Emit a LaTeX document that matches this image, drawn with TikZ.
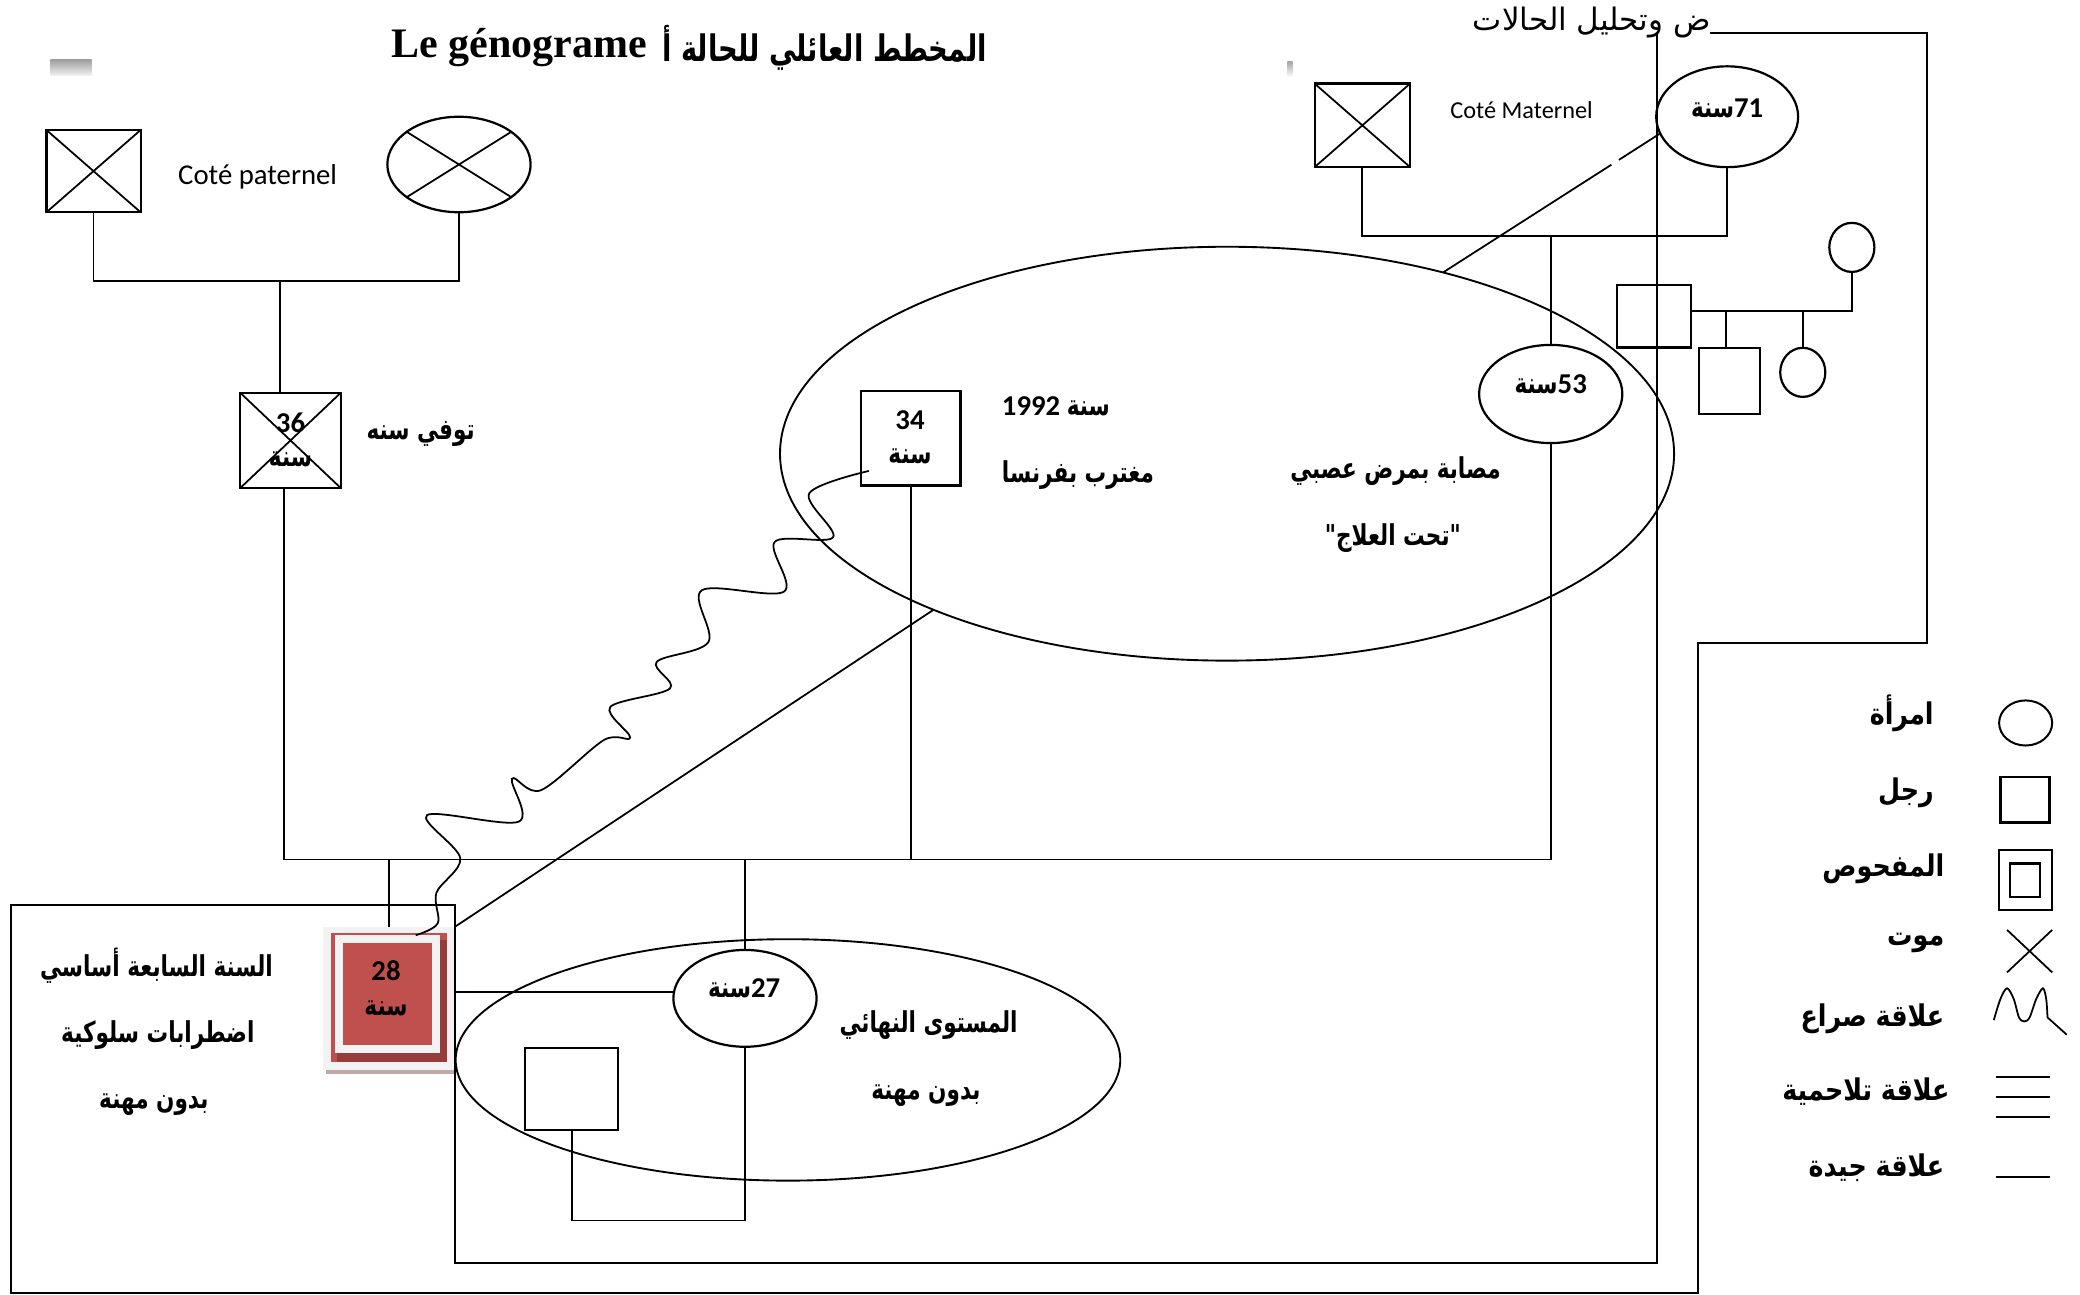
\documentclass[tikz,border=0pt]{standalone}
\usepackage{fontspec}
\setmainfont{Carlito}
\newfontfamily\arb[Script=Arabic,FakeStretch=0.75]{DejaVu Sans}
\newfontfamily\arblg[Script=Arabic,FakeStretch=0.85]{DejaVu Sans}
\newfontfamily\arbh[Script=Arabic]{DejaVu Sans}
\newfontfamily\tms{Liberation Serif}
\TeXXeTstate=1
\usetikzlibrary{shapes.geometric,calc}
\definecolor{idxred}{HTML}{C0504D}
\definecolor{idxdark}{HTML}{963C3A}
\definecolor{idxlight}{HTML}{F2F2F2}
\definecolor{idxshadow}{HTML}{BFA8A8}
\begin{document}
\begin{tikzpicture}[x=0.6pt,y=-0.6pt,
 ln/.style={line width=0.8pt},
 frame/.style={line width=0.9pt},
 shp/.style={draw,line width=1pt,inner sep=0pt,outer sep=0pt},
 box/.style={shp,rectangle},
 oval/.style={shp,ellipse},
 sz/.style 2 args={minimum width={#1*0.6pt},minimum height={#2*0.6pt}},
 lat/.style={inner sep=0pt,font=\fontsize{13}{15}\selectfont},
 ar/.style={inner sep=0pt,font=\arb\bfseries\fontsize{13}{15}\selectfont},
 num/.style={inner sep=0pt,font=\bfseries\fontsize{13}{15}\selectfont},
 lg/.style={inner sep=0pt,anchor=east,font=\arblg\bfseries\fontsize{13.5}{15}\selectfont},
]
\useasboundingbox (0,0) rectangle (1568,976);

% stray marks
\shade[top color=gray!75,bottom color=gray!10] (38,45) rectangle (69,57);
\shade[top color=gray!70,bottom color=white] (970.5,46.5) rectangle (974.5,58);

% title
\node[inner sep=0pt,anchor=west,font=\tms\bfseries\fontsize{19}{22}\selectfont] (ttl) at (295,36) {Le génograme};
\node[inner sep=0pt,anchor=west,font=\arb\bfseries\fontsize{16.5}{19}\selectfont] (tta) at (499,36) {\beginR المخطط العائلي للحالة أ\endR};
\node[inner sep=0pt,anchor=east,font=\arbh\fontsize{14}{16}\selectfont] (hdr) at (1290,17) {\beginR ض وتحليل الحالات\endR};

% family ellipses
\node[oval,line width=0.85pt,sz={674}{312}] (fam1) at (925,342) {};
\node[oval,line width=0.85pt,sz={501}{182}] (fam2) at (594,799) {};

% paternal side
\node[box,sz={71}{62}] (pgf) at (70.5,129) {};
\draw[ln] (pgf.north west) -- (pgf.south east) (pgf.south west) -- (pgf.north east);
\node[lat,anchor=west] (cp) at (134,133) {Coté paternel};
\node[oval,sz={108}{72}] (pgm) at (346,124) {};
\draw[ln] ($(pgm.center)+(-40,-25)$) -- ($(pgm.center)+(40,25)$)
          ($(pgm.center)+(-40,25)$) -- ($(pgm.center)+(40,-25)$);
\coordinate (pj) at (211,212);
\draw[ln] (pgf.south) |- (pj) -| (pgm.south);

\node[box,sz={76}{72}] (pf) at (219,332) {};
\draw[ln] (pf.north west) -- (pf.south east) (pf.south west) -- (pf.north east);
\draw[ln] (pj) -- (pj |- pf.north);
\node[num] (pft) at (219,319) {36};
\node[ar] (pfs) at (219,346) {سنة};
\node[ar,anchor=west] (pfl) at (276,327) {\beginR توفي سنه\endR};

\coordinate (sibL) at (214,648);
\coordinate (sibR) at (1169,648);
\draw[ln] (sibL |- pf.south) -- (sibL) -- (sibR);

% maternal side
\node[box,sz={72}{63}] (mgf) at (1027,94.5) {};
\draw[ln] (mgf.north west) -- (mgf.south east) (mgf.south west) -- (mgf.north east);
\node[inner sep=0pt,anchor=west,font=\fontsize{11}{13}\selectfont] (cm) at (1093,83) {Coté Maternel};
\node[oval,sz={107}{76}] (mgm) at (1302,88) {};
\node[num] (mgmt) at (1302,82) {{\arb\bfseries سنة}71};
\coordinate (mj) at (1169,178);
\draw[ln] (mgf.south) |- (mj) -| (mgm.south);

\node[oval,sz={108}{74}] (m53) at (1169,297) {};
\node[num] (m53t) at (1169,290) {{\arb\bfseries سنة}53};
\draw[ln] (mj) -- (m53.north);
\draw[ln] (m53.south) -- (sibR);
\node[ar] (m53a) at (1052,355) {\beginR مصابة بمرض عصبي\endR};
\node[ar] (m53b) at (1050,406) {"\hbox{العلاج} \hbox{تحت}"};

% brother
\node[box,sz={75}{71}] (b34) at (686.5,330.5) {};
\node[num] (b34t) at (686,317) {34};
\node[ar] (b34s) at (686,344) {سنة};
\draw[ln] (b34.south) -- (b34.south |- sibL);
\node[num,anchor=west] (b34a) at (755,306) {1992 {\arb\bfseries سنة}};
\node[ar,anchor=west] (b34b) at (755,358) {\beginR مغترب بفرنسا\endR};

% right family
\node[box,sz={56}{47}] (s2) at (1246.75,238.5) {};
\node[oval,sz={34}{37}] (w2) at (1396,186.5) {};
\node[box,sz={46}{50}] (c2a) at (1304,287.2) {};
\node[oval,sz={34}{37}] (c2b) at (1359,280.7) {};
\coordinate (j2) at (1301,234.5);
\draw[ln] (s2.east |- j2) -| (w2.south);
\draw[ln] (j2) -- (j2 |- c2a.north);
\draw[ln] (j2 -| c2b.north) -- (c2b.north);

% index person
\fill[idxshadow] (245.8,805) rectangle (343,809.7);
\node[inner sep=0pt,outer sep=0pt,fill=idxlight,sz={99.3}{108}] (idx) at (293.35,752.6) {};
\fill[idxred] (249.5,703.6) rectangle (336.7,800.3);
\fill[idxdark] (253.8,708.6) rectangle (336.7,800.3);
\fill[idxlight] (252.6,704.9) rectangle (331.7,793.6);
\fill[idxred] (258.3,711.1) rectangle (325.9,787.8);
\node[num] (idxt) at (291,732) {28};
\node[ar] (idxs) at (291,760) {سنة};
\draw[ln] (idx.north |- sibL) -- (idx.north);
\node[ar] (ia) at (118,728) {\beginR السنة السابعة أساسي\endR};
\node[ar] (ib) at (119,780) {\beginR اضطرابات سلوكية\endR};
\node[ar] (ic) at (116,833) {\beginR بدون مهنة\endR};

% spouse and child
\node[oval,sz={108}{73}] (w27) at (561.6,752.6) {};
\node[num] (w27t) at (561,745) {{\arb\bfseries سنة}27};
\draw[ln] (w27.north |- sibL) -- (w27.north);
\coordinate (sp) at (343,748);
\draw[ln] (sp) -- (sp -| w27.west);
\node[box,sz={70}{62}] (ch) at (431,821) {};
\coordinate (cb) at (431,920);
\draw[ln] (w27.south) |- (cb) -- (ch.south);
\node[ar] (wa) at (700,773) {\beginR المستوى النهائي\endR};
\node[ar] (wb) at (698,826) {\beginR بدون مهنة\endR};

% relations
\draw[ln] (fam1.40) -- ($(fam1.40)!0.775!(mgm.194)$)
          ($(fam1.40)!0.81!(mgm.194)$) -- (mgm.194);
\draw[ln] (fam1.208) -- (idx.north east);
\coordinate (ws) at ($(b34.south west)+(6,-11)$);
\coordinate (we) at ($(idx.north)+(20,6.4)$);
\draw[ln] plot[smooth,tension=0.55] coordinates {(ws) (610,372) (628,405) (584,408.5) (591,446) (529,445) (534,484) (495,499) (505,519) (460,533) (475,556) (455,558) (408,595.6) (386,587) (391,619.4) (322,614.4) (347,647) (329,673) (330,696) (we)};

% frames
\draw[frame] (1289,25) -- (1453,25) -- (1453,485) -- (1280,485) -- (1280,975) -- (8,975) -- (8,682) -- (343,682) -- (343,952) -- (1249,952) -- (1249,25);

% legend
\node[oval,line width=0.9pt,sz={40}{34}] (lgW) at (1527,545) {};
\node[lg] (lgWt) at (1458,538) {امرأة};
\node[box,sz={37}{34}] (lgM) at (1526.5,603) {};
\node[lg] (lgMt) at (1458,598) {رجل};
\node[box,sz={40}{45}] (lgI) at (1527,663.5) {};
\node[box,sz={23}{25}] (lgIi) at (1526.5,663.5) {};
\node[lg] (lgIt) at (1466,655) {المفحوص};
\coordinate (lgX) at (1530,717);
\draw[ln] ($(lgX)+(-17,-16)$) -- ($(lgX)+(17,16)$) ($(lgX)+(-17,16)$) -- ($(lgX)+(17,-16)$);
\node[lg] (lgXt) at (1466,711) {موت};
\draw[ln] plot[smooth,tension=0.5] coordinates {(1503,769) (1508,753) (1513,745) (1518,753) (1522,767) (1526,770) (1530,767) (1535,753) (1540,745) (1542.5,753) (1543.5,767)} -- (1558,780);
\node[lg] (lgCt) at (1466,768) {\beginR علاقة صراع\endR};
\draw[ln] (1505,812) -- (1545,812) (1505,827) -- (1545,827) (1505,842) -- (1545,842);
\node[lg] (lgFt) at (1470,823) {\beginR علاقة تلاحمية\endR};
\draw[ln] (1505,887) -- (1545,887);
\node[lg] (lgGt) at (1466,880) {\beginR علاقة جيدة\endR};
\end{tikzpicture}
\end{document}
